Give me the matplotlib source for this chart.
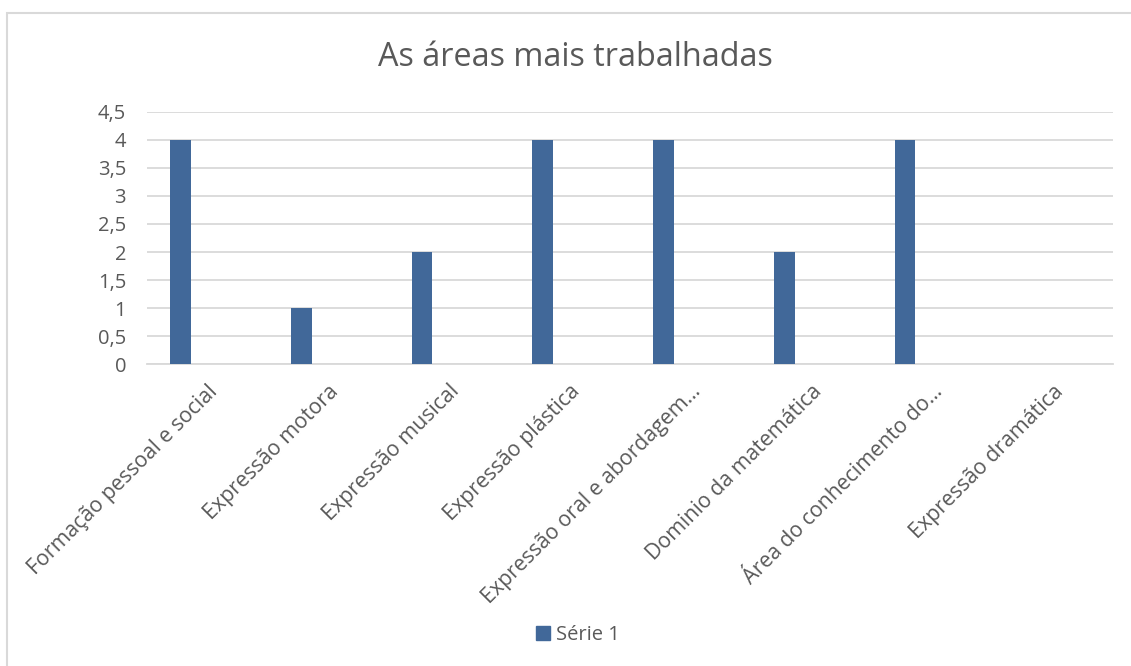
import matplotlib
matplotlib.use("Agg")
import matplotlib.pyplot as plt
from matplotlib.patches import Rectangle, Patch
import numpy as np

categories = ["Formação pessoal e social", "Expressão motora", "Expressão musical",
              "Expressão plástica", "Expressão oral e abordagem…", "Dominio da matemática",
              "Área do conhecimento do…", "Expressão dramática"]
values = [4, 1, 2, 4, 4, 2, 4, 0]
yticks = [0, 0.5, 1, 1.5, 2, 2.5, 3, 3.5, 4, 4.5]
ytick_labels = ["0", "0,5", "1", "1,5", "2", "2,5", "3", "3,5", "4", "4,5"]
series_name = "Série 1"
title = "As áreas mais trabalhadas"

plt.rcParams['font.family'] = ['Open Sans', 'DejaVu Sans']
W, H = 1131, 666
fig = plt.figure(figsize=(W/100, H/100), dpi=100)
bar_color = '#416899'
grid_color = '#D9D9D9'
text_color = '#595959'

ax = fig.add_axes([147/W, 1-364.3/H, 965.9/W, 252.6/H])
x = np.arange(len(categories))
ax.bar(x - 0.222, values, width=0.171, color=bar_color, zorder=3)
ax.set_xlim(-0.5, len(categories) - 0.5)
ax.set_ylim(0, 4.5)
ax.set_yticks(yticks)
ax.set_yticklabels(ytick_labels, fontsize=14.5, color=text_color)
ax.set_xticks(x)
ax.set_xticklabels(categories, rotation=45, ha='right', va='top',
                   rotation_mode='anchor', fontsize=15.3, color=text_color)
ax.tick_params(axis='y', length=0, pad=15)
ax.tick_params(axis='x', length=0, pad=12)
ax.yaxis.grid(True, color=grid_color, linewidth=1.3, zorder=0)
for s in ['top', 'right', 'left']:
    ax.spines[s].set_visible(False)
ax.spines['bottom'].set_color(grid_color)
ax.spines['bottom'].set_linewidth(1.3)

fig.text(575/W, 1-58/H, title, ha='center', va='center', fontsize=23.3, color=text_color)

fig.patches.append(Rectangle((7/W, -0.1), 1.2, (H-13)/H + 0.1, transform=fig.transFigure,
                             fill=False, edgecolor=grid_color, linewidth=1.5))

fig.legend(handles=[Patch(color=bar_color, label=series_name)], loc='center',
           bbox_to_anchor=(578/W, 1-635/H), frameon=False, fontsize=14.5,
           handlelength=0.7, handleheight=0.7, handletextpad=0.3, labelcolor=text_color)

fig.savefig("out.png", dpi=100)
